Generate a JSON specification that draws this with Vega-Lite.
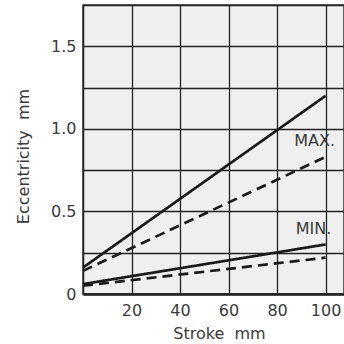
{
  "$schema": "https://vega.github.io/schema/vega-lite/v6.json",
  "width": 261,
  "height": 289,
  "autosize": {"type": "none"},
  "padding": {"left": 83, "top": 5, "right": 0, "bottom": 50},
  "background": "white",
  "config": {
    "view": {"fill": "#efefef", "stroke": "#333", "strokeWidth": 1.5},
    "font": "DejaVu Sans"
  },
  "datasets": {
    "lines": [
      {"series": "MAX solid", "type": "solid", "stroke": 0, "ecc": 0.16},
      {"series": "MAX solid", "type": "solid", "stroke": 100, "ecc": 1.2},
      {"series": "MAX dashed", "type": "dashed", "stroke": 0, "ecc": 0.14},
      {"series": "MAX dashed", "type": "dashed", "stroke": 100, "ecc": 0.83},
      {"series": "MIN solid", "type": "solid", "stroke": 0, "ecc": 0.06},
      {"series": "MIN solid", "type": "solid", "stroke": 100, "ecc": 0.3},
      {"series": "MIN dashed", "type": "dashed", "stroke": 0, "ecc": 0.05},
      {"series": "MIN dashed", "type": "dashed", "stroke": 100, "ecc": 0.22}
    ],
    "labels": [
      {"text": "MAX.", "stroke": 95.5, "ecc": 0.925},
      {"text": "MIN.", "stroke": 95, "ecc": 0.396}
    ]
  },
  "layer": [
    {
      "data": {"name": "lines"},
      "mark": {"type": "line", "color": "#1a1a1a", "strokeWidth": 2.7, "clip": true},
      "encoding": {
        "x": {
          "field": "stroke", "type": "quantitative",
          "scale": {"domain": [0, 107.6], "nice": false, "zero": false},
          "axis": {
            "values": [20, 40, 60, 80, 100],
            "title": "Stroke\u00a0\u00a0mm",
            "titleFontSize": 16, "titleFontWeight": "normal", "titleColor": "#3a3a3a",
            "titleX": 136, "titleY": 44, "titleBaseline": "alphabetic",
            "labelFontSize": 16, "labelColor": "#3a3a3a", "labelPadding": 8,
            "ticks": false,
            "domainColor": "#222", "domainWidth": 2.5,
            "grid": true, "gridColor": "#222", "gridWidth": 1.3, "gridOpacity": 1
          }
        },
        "y": {
          "field": "ecc", "type": "quantitative",
          "scale": {"domain": [0, 1.75], "nice": false},
          "axis": {
            "values": [0, 0.25, 0.5, 0.75, 1, 1.25, 1.5, 1.75],
            "labelExpr": "datum.value == 0 ? '0' : (datum.value * 2 == round(datum.value * 2) ? format(datum.value, '.1f') : '')",
            "title": "Eccentricity\u00a0\u00a0mm",
            "titleFontSize": 16, "titleFontWeight": "normal", "titleColor": "#3a3a3a",
            "titleY": 151, "titlePadding": 19,
            "labelFontSize": 16, "labelColor": "#3a3a3a", "labelPadding": 7,
            "ticks": false,
            "domainColor": "#222", "domainWidth": 1.5,
            "grid": true, "gridColor": "#222", "gridWidth": 1.3, "gridOpacity": 1
          }
        },
        "detail": {"field": "series"},
        "strokeDash": {
          "field": "type", "type": "nominal",
          "scale": {"domain": ["solid", "dashed"], "range": [[1, 0], [10, 6]]},
          "legend": null
        }
      }
    },
    {
      "data": {"name": "labels"},
      "mark": {"type": "text", "fontSize": 16, "color": "#3a3a3a", "align": "center", "baseline": "middle"},
      "encoding": {
        "x": {"field": "stroke", "type": "quantitative"},
        "y": {"field": "ecc", "type": "quantitative"},
        "text": {"field": "text"}
      }
    }
  ]
}
